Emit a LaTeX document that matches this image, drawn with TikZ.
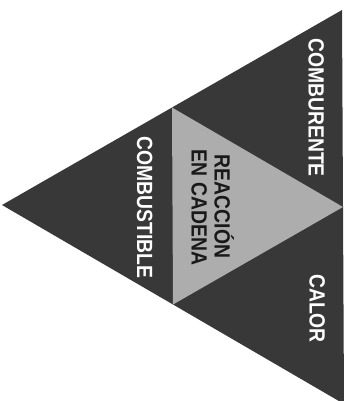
\documentclass[tikz,border=0pt]{standalone}
\usepackage{fontspec}
\setmainfont{Liberation Sans}[FakeStretch=0.88]
\begin{document}
\begin{tikzpicture}[x=1pt,y=-1pt,
  outerfill/.style={fill=black!78},
  innerfill/.style={fill=black!32},
  lbl/.style={font=\fontsize{22}{24}\selectfont\bfseries, rotate=-90, inner sep=0pt,
              text height=15.7pt, text depth=0pt, anchor=center},
  whitelbl/.style={lbl, text=white},
  blacklbl/.style={lbl, text=black!90}]
\useasboundingbox (0,0) rectangle (351,401);
\coordinate (apex) at (2,205);
\coordinate (top) at (342,10);
\coordinate (bot) at (344,404);
\path (apex) -- (top) coordinate[pos=0.5] (m1);
\path (apex) -- (bot) coordinate[pos=0.5] (m2);
\path (top) -- (bot) coordinate[pos=0.5] (m3);
\fill[outerfill] (apex) -- (top) -- (bot) -- cycle;
\fill[innerfill] (m1) -- (m3) -- (m2) -- cycle;
\node[whitelbl] (comburente) at (316.5,107.5) {COMBURENTE};
\node[whitelbl] (calor) at (317.5,308.5) {CALOR};
\node[whitelbl] (combustible) at (145,207.5) {COMBUSTIBLE};
\node[blacklbl] (reaccion) at (222.5,206.5) {REACCIÓN};
\node[blacklbl] (cadena) at (199.5,207.5) {EN CADENA};
\end{tikzpicture}
\end{document}
